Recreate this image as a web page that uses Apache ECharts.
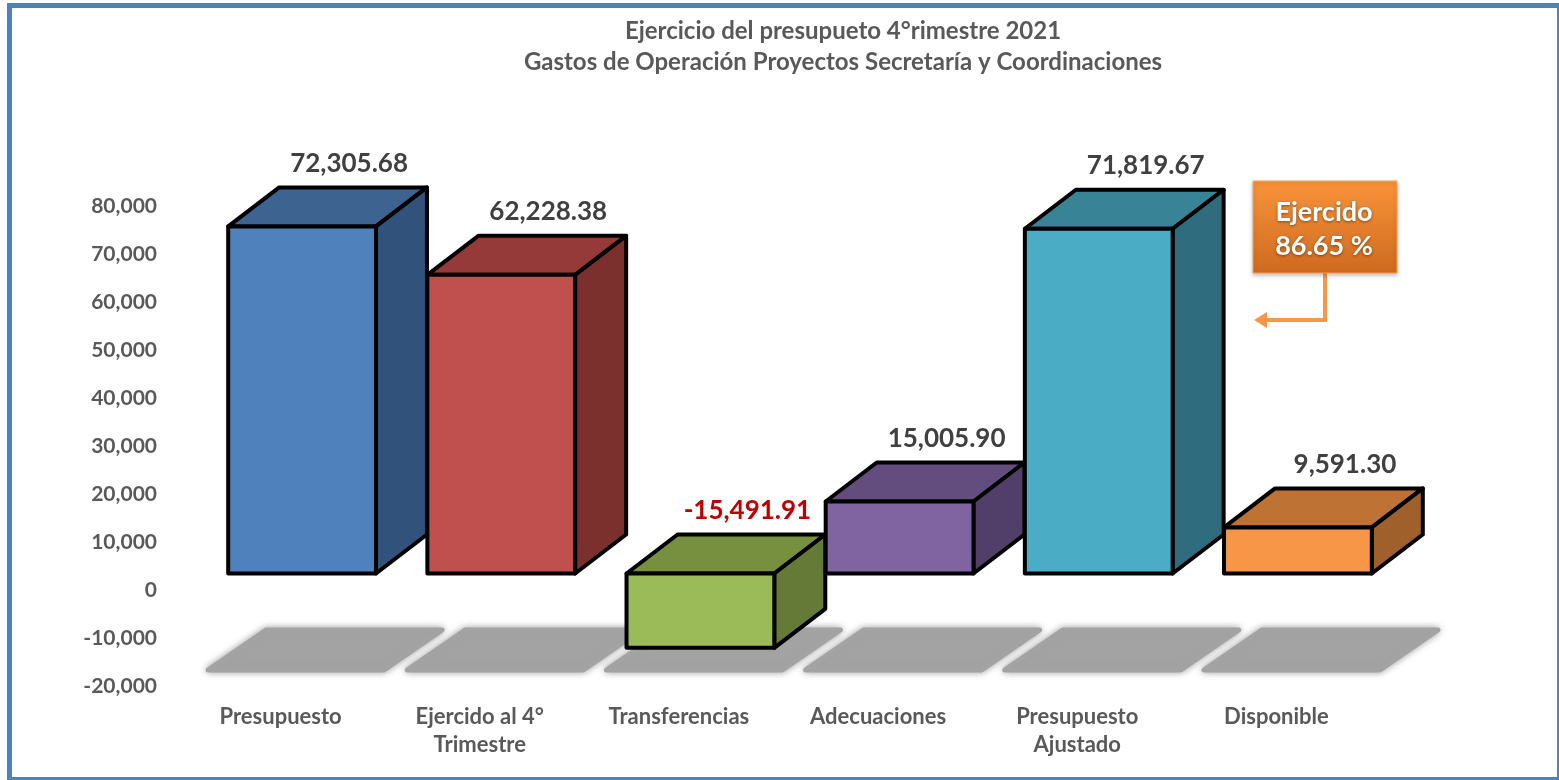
<!DOCTYPE html>
<html>
<head>
<meta charset="utf-8">
<title>Ejercicio del presupueto 4°rimestre 2021</title>
<script src="https://cdn.jsdelivr.net/npm/echarts@6/dist/echarts.min.js"></script>
<style>
  html, body { margin: 0; padding: 0; background: #ffffff; }
  #chart { width: 1559px; height: 780px; }
</style>
</head>
<body>
<div id="chart"></div>
<script>
// categorias y valores
const categories = ['Presupuesto', 'Ejercido al 4°\nTrimestre', 'Transferencias', 'Adecuaciones', 'Presupuesto\nAjustado', 'Disponible'];
const values = [72305.68, 62228.38, -15491.91, 15005.90, 71819.67, 9591.30];
const yTicks = [-20000, 80000, 10000]; // min, max, intervalo

// colores por barra: frente, tapa, lado
const frontColors = ['#4F81BD', '#C0504D', '#9BBB59', '#8064A2', '#4BACC6', '#F79646'];
const topColors = ['#3D6391', '#953A38', '#77903F', '#634D7E', '#388396', '#BE7233'];
const sideColors = ['#31527A', '#7C302E', '#647A36', '#523F69', '#2F6C7D', '#A0602B'];

const calloutLines = ['Ejercido', '86.65 %'];

const FONT = 'Lato, "Open Sans", sans-serif';
const DX = 51, DY = -39;     // profundidad 3d
const LIFT = -16.5;          // el piso 3d queda arriba del cero del eje
const SHIFT = 21.5;          // barras corridas a la derecha de la etiqueta

const chart = echarts.init(document.getElementById('chart'));

function fmt(v) {
  return v.toLocaleString('en-US', { minimumFractionDigits: 2, maximumFractionDigits: 2 });
}

function renderBar(params, api) {
  const i = api.value(0);
  const v = api.value(1);
  const base = api.coord([i, 0]);
  const top = api.coord([i, v]);
  const w = api.size([1, 0])[0] * 0.742;
  const cx = base[0] + SHIFT;
  const x0 = cx - w / 2, x1 = cx + w / 2;
  const yb = base[1] + LIFT, yt = top[1] + LIFT;
  const y0 = Math.min(yb, yt), y1 = Math.max(yb, yt);
  const line = { stroke: '#000', lineWidth: 4, lineJoin: 'round' };
  return {
    type: 'group',
    children: [
      { type: 'polygon', shape: { points: [[x0, y0], [x0 + DX, y0 + DY], [x1 + DX, y0 + DY], [x1, y0]] },
        style: Object.assign({ fill: topColors[i] }, line) },
      { type: 'polygon', shape: { points: [[x1, y0], [x1 + DX, y0 + DY], [x1 + DX, y1 + DY], [x1, y1]] },
        style: Object.assign({ fill: sideColors[i] }, line) },
      { type: 'rect', shape: { x: x0, y: y0, width: w, height: y1 - y0 },
        style: Object.assign({ fill: frontColors[i] }, line) },
      { type: 'text', x: cx + 47, y: y0 + DY - 24,
        style: { text: fmt(v), align: 'center', verticalAlign: 'middle',
                 fill: v < 0 ? '#C00000' : '#404040', font: 'bold 26px ' + FONT } }
    ]
  };
}

function renderShadow(params, api) {
  const i = api.value(0);
  const base = api.coord([i, 0]);
  const cx = base[0] + SHIFT;
  const yt = base[1] + 40, yb = base[1] + 80;
  return {
    type: 'polygon',
    shape: { points: [[cx - 94, yb], [cx - 36, yt], [cx + 140, yt], [cx + 82, yb]] },
    style: { fill: '#A3A3A3', stroke: '#A3A3A3', lineWidth: 5, lineJoin: 'round',
             shadowBlur: 7, shadowColor: 'rgba(160,160,160,0.9)' }
  };
}

const data = values.map((v, i) => [i, v]);

chart.setOption({
  animation: false,
  title: {
    text: 'Ejercicio del presupueto 4°rimestre 2021\nGastos de Operación Proyectos Secretaría y Coordinaciones',
    left: 843, top: 16, textAlign: 'center', padding: 0,
    textStyle: { color: '#595959', fontFamily: FONT, fontWeight: 'bold', fontSize: 24, lineHeight: 31 }
  },
  grid: { left: 181, right: 183, top: 206, bottom: 94 },
  xAxis: {
    type: 'category',
    data: categories,
    axisLine: { show: false },
    axisTick: { show: false },
    axisLabel: { color: '#595959', fontFamily: FONT, fontWeight: 'bold', fontSize: 22, lineHeight: 28, margin: 17, interval: 0 }
  },
  yAxis: {
    type: 'value',
    min: yTicks[0], max: yTicks[1], interval: yTicks[2],
    axisLine: { show: false },
    axisTick: { show: false },
    splitLine: { show: false },
    axisLabel: {
      color: '#595959', fontFamily: FONT, fontWeight: 'bold', fontSize: 21, margin: 24,
      formatter: v => v.toLocaleString('en-US')
    }
  },
  series: [
    { type: 'custom', name: 'sombra', data: data, renderItem: renderShadow, z: 1, silent: true },
    { type: 'custom', name: 'barras', data: data, renderItem: renderBar, z: 2 }
  ],
  graphic: [
    { type: 'rect', shape: { x: 9.5, y: 5.5, width: 1550, height: 774 },
      style: { fill: null, stroke: '#4F81BD', lineWidth: 5 }, z: 10 },
    {
      type: 'group', z: 20,
      children: [
        { type: 'polyline', shape: { points: [[1325, 273], [1325, 320], [1264, 320]] },
          style: { stroke: '#F79646', lineWidth: 4, fill: null } },
        { type: 'polygon', shape: { points: [[1254, 320], [1267, 312], [1267, 328]] },
          style: { fill: '#F79646' } },
        { type: 'rect', shape: { x: 1253, y: 181, width: 144, height: 92 },
          style: {
            fill: new echarts.graphic.LinearGradient(0, 0, 0, 1, [
              { offset: 0, color: '#F9943A' }, { offset: 1, color: '#CE6A1F' }
            ]),
            stroke: '#F7A35A', lineWidth: 1,
            shadowBlur: 4, shadowColor: 'rgba(0,0,0,0.25)', shadowOffsetY: 2
          } },
        { type: 'text', x: 1324, y: 212,
          style: { text: calloutLines[0], align: 'center', verticalAlign: 'middle', fill: '#fff',
                   font: 'bold 27px ' + FONT, textShadowBlur: 3, textShadowColor: 'rgba(0,0,0,0.45)', textShadowOffsetY: 1 } },
        { type: 'text', x: 1324, y: 246,
          style: { text: calloutLines[1], align: 'center', verticalAlign: 'middle', fill: '#fff',
                   font: 'bold 27px ' + FONT, textShadowBlur: 3, textShadowColor: 'rgba(0,0,0,0.45)', textShadowOffsetY: 1 } }
      ]
    }
  ]
});
</script>
</body>
</html>
